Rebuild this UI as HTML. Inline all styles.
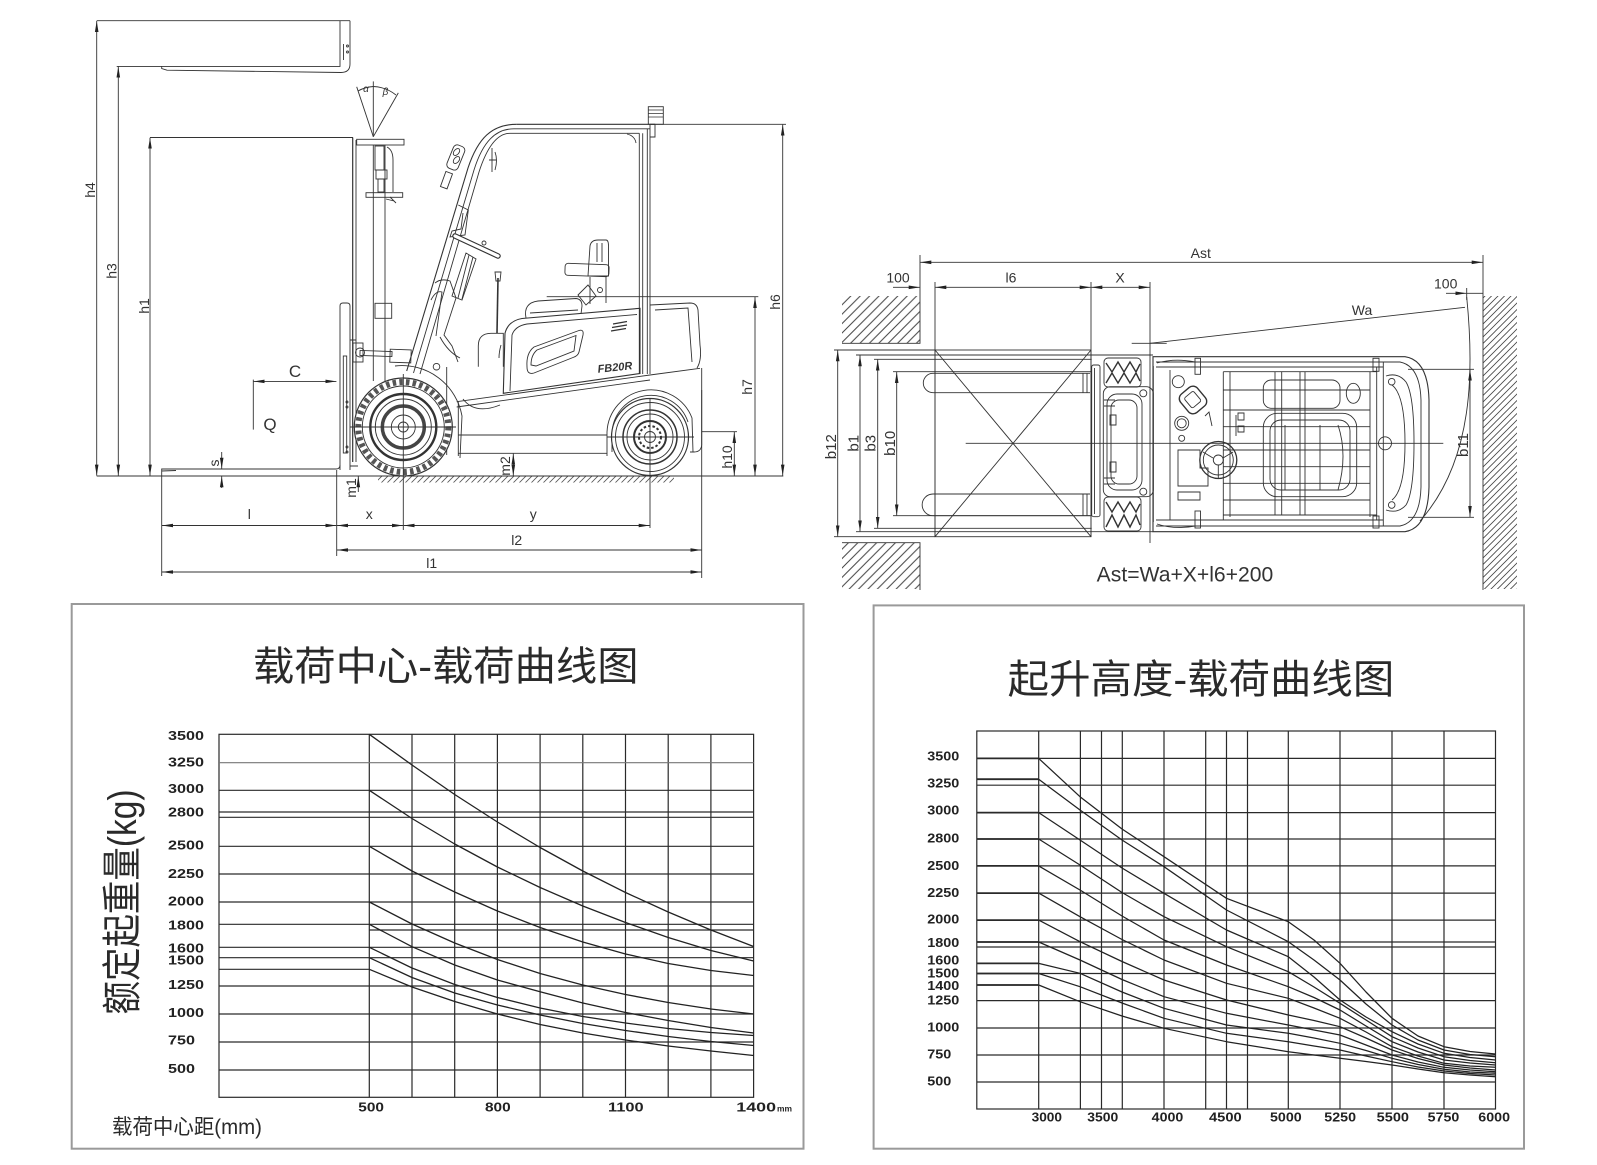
<!DOCTYPE html>
<html><head><meta charset="utf-8"><title>Forklift drawing</title>
<style>
html,body{margin:0;padding:0;background:#fff;}
svg{display:block;}
.t{font-family:"Liberation Sans","Noto Sans CJK SC",sans-serif;fill:#2a2a2a;}
.d{font-family:"Liberation Sans",sans-serif;fill:#333;font-size:14px;}
.k{font-family:"Liberation Sans",sans-serif;font-weight:bold;fill:#222;font-size:13px;}
</style></head>
<body>
<svg width="1597" height="1165" viewBox="0 0 1597 1165" xmlns="http://www.w3.org/2000/svg">
<defs>
<marker id="ar" markerUnits="userSpaceOnUse" markerWidth="11" markerHeight="5" refX="11" refY="2.5" orient="auto-start-reverse" viewBox="0 0 11 5"><path d="M0,0.7 L11,2.5 L0,4.3 Z" fill="#222"/></marker>
<pattern id="hl" patternUnits="userSpaceOnUse" width="9.4" height="9.4"><path d="M0,9.4 L9.4,0 M-2,2 L2,-2 M7.4,11.4 L11.4,7.4" stroke="#444" stroke-width="1"/></pattern>
<pattern id="hr" patternUnits="userSpaceOnUse" width="6.5" height="6.5"><path d="M0,6.5 L6.5,0 M-2,2 L2,-2 M4.5,8.5 L8.5,4.5" stroke="#444" stroke-width="0.8"/></pattern>
<pattern id="hg" patternUnits="userSpaceOnUse" width="6" height="6"><path d="M0,6 L6,0 M-2,2 L2,-2 M4,8 L8,4" stroke="#555" stroke-width="0.8"/></pattern>
</defs>
<rect width="1597" height="1165" fill="#fff"/>

<!-- ================= SIDE VIEW ================= -->
<g fill="none" stroke="#333" stroke-width="0.9">
  <!-- vertical dims left -->
  <line x1="96.7" y1="21" x2="96.7" y2="475.6" marker-start="url(#ar)" marker-end="url(#ar)"/>
  <line x1="96.7" y1="20.7" x2="350" y2="20.7"/>
  <line x1="118.3" y1="66.6" x2="118.3" y2="475.6" marker-start="url(#ar)" marker-end="url(#ar)"/>
  <line x1="150" y1="137.7" x2="150" y2="475.6" marker-start="url(#ar)" marker-end="url(#ar)"/>
  <line x1="150" y1="137.5" x2="353" y2="137.5"/>
  <!-- ground -->
  <line x1="96.7" y1="476" x2="783.3" y2="476"/>
  <rect x="378" y="476.5" width="296" height="6" fill="url(#hg)" stroke="none"/>
  <!-- raised fork -->
  <path d="M116.7,66.4 L340,66.4 L340,20.7"/>
  <path d="M350,20.7 L350,64 Q350,72.5 341,72.5 L167,70.2 L161.7,68.5 L161.7,66.4"/>
  <line x1="343.5" y1="44" x2="343.5" y2="60"/>
  <circle cx="347.5" cy="46" r="1"/><circle cx="347.5" cy="52" r="1"/>
  <!-- mast -->
  <line x1="352.7" y1="137.5" x2="352.7" y2="462" stroke-width="1.2"/>
  <line x1="356" y1="140" x2="356" y2="462"/>
  <line x1="373.3" y1="145" x2="373.3" y2="381"/>
  <line x1="385" y1="145" x2="385" y2="381"/>
  <rect x="356.7" y="139.3" width="47.3" height="5.7"/>
  <rect x="375" y="146" width="9" height="24"/>
  <rect x="376" y="170" width="11" height="9"/>
  <rect x="378" y="179" width="6" height="13"/>
  <path d="M387,147 Q393,150 393,160 L393,192"/>
  <rect x="366" y="192.7" width="36.7" height="4.6"/>
  <path d="M390,197 L396,203 M386,199 L394,201"/>
  <rect x="375" y="303.3" width="16.7" height="15"/>
  <!-- backrest/carriage -->
  <path d="M340,470 L340,306 Q340,303 343,303 L347,303 Q350,303 350,306 L350,470"/>
  <rect x="343.3" y="356" width="3.4" height="97"/>
  <circle cx="347" cy="402" r="1"/><circle cx="347" cy="407" r="1"/><circle cx="347" cy="447" r="1"/><circle cx="347" cy="452" r="1"/>
  <path d="M350,340 L356,340 M350,466 L358,466"/>
  <!-- lower fork -->
  <path d="M161.7,476 L161.7,469 L336,469 Q340,469 340,465"/>
  <path d="M161.7,471 L176,470.5"/>
  <!-- alpha beta -->
  <line x1="373.3" y1="136.7" x2="356.7" y2="86.8"/>
  <line x1="373.3" y1="136.7" x2="398.3" y2="92.9"/>
  <line x1="373.3" y1="136.7" x2="373.3" y2="81.4"/>
  <path d="M358,91 Q365,87 373.3,86.5"/>
  <path d="M373.3,86.5 Q386,87 396,95"/>
  <!-- tilt cylinder -->
  <rect x="360" y="351" width="32" height="5" transform="rotate(2 376 353)"/>
  <rect x="390" y="349.5" width="21" height="13" transform="rotate(2 400 356)"/>
  <circle cx="360" cy="352.5" r="4.5"/>
  <rect x="353" y="343" width="10" height="19"/>
  <circle cx="436.5" cy="366.7" r="3.3"/>

  <!-- overhead guard -->
  <path d="M516.7,124.3 C492,124.3 478,138 468,168 L406.7,371" stroke-width="1.1"/>
  <path d="M514,128.8 C496,128.8 483,141 474,170 L413.5,373"/>
  <path d="M510,133.3 C499,133.3 488,144 479,172 L420,374"/>
  <line x1="516.7" y1="124.3" x2="655" y2="124.3" stroke-width="1.1"/>
  <line x1="514" y1="128.8" x2="650" y2="128.8"/>
  <line x1="510" y1="133.3" x2="639.3" y2="133.3"/>
  <line x1="639.3" y1="133.3" x2="639.3" y2="374"/>
  <line x1="642.7" y1="133.3" x2="642.7" y2="374"/>
  <line x1="647.3" y1="128.8" x2="647.3" y2="374"/>
  <line x1="650" y1="124.3" x2="650" y2="374"/>
  <path d="M650,124.3 L655,124.3 L655,137 L650,137"/>
  <rect x="648.3" y="106.7" width="15" height="17.6"/>
  <path d="M648.3,110 H663.3 M648.3,113.5 H663.3 M648.3,117 H663.3" stroke-width="0.8"/>
  <path d="M627,134 Q635,136 636,143" />
  <!-- mirrors & handle -->
  <rect x="450" y="145" width="12" height="25" rx="4" transform="rotate(22 456 157)"/>
  <ellipse cx="456.5" cy="152" rx="2.5" ry="4" transform="rotate(40 456.5 152)"/>
  <ellipse cx="456.5" cy="160" rx="2.5" ry="4" transform="rotate(40 456.5 160)"/>
  <rect x="443" y="172" width="7" height="16" transform="rotate(20 446 180)"/>
  <path d="M492,148 L492,172 M489,160 H496 M495,152 Q498,160 495,170"/>
  <path d="M458.3,205 L468.3,210 L465,235 L450,237 L452,231 L461,229 L463,213"/>
  <!-- steering -->
  <line x1="455" y1="236" x2="498" y2="256" stroke-width="5.5" stroke-linecap="round"/>
  <line x1="455" y1="236" x2="498" y2="256" stroke="#fff" stroke-width="3.2" stroke-linecap="round"/>
  <circle cx="484" cy="243" r="2"/>
  <path d="M466,253 L476,259 L462,300 L452,296 Z"/>
  <path d="M469,255 L458,298 M473,257 L462,299"/>
  <path d="M435,283 Q441,278 450,281 L456,298 L444,335 L452,346 L458,362"/>
  <path d="M431,300 Q436,290 442,292 L436,336"/>
  <path d="M440,337 Q448,352 460,358"/>
  <!-- lever -->
  <line x1="498" y1="278" x2="497" y2="333" stroke-width="1.6"/>
  <path d="M495,272 L501,272 L500,281 L496,281 Z"/>
  <!-- step -->
  <path d="M478.3,366.7 L478.3,346 Q478.3,333.3 491,333.3 L503.3,333.3 L503.3,366.7"/>
  <path d="M501,345 Q499,352 499,358"/>
  <!-- seat -->
  <path d="M588,276 L590,246 Q591,240 598,240 L606,240 Q608.5,240 608.5,246 L608.5,276 Z"/>
  <path d="M597,243 L597,262 M602,243 L602,262"/>
  <rect x="565" y="264" width="44" height="12" rx="3" transform="rotate(2 587 270)"/>
  <path d="M590,277 L590,304 M606,277 L606,303"/>
  <path d="M578,295 L588,285 L596,296 L586,305 Z"/>
  <circle cx="600" cy="290" r="2.5"/>
  <!-- hood -->
  <path d="M526,318 Q523,303 538,301 L576,298.5 Q582,299 582,306 L581,314"/>
  <path d="M530,313 L578,310"/>
  <line x1="546.7" y1="296.7" x2="758.3" y2="296.7" />
  <!-- body panel -->
  <path d="M503.3,393.3 L505,333.3 Q508,321 522,318.5 L640,308.3 L640,373.5 Z" stroke-width="1.1"/>
  <path d="M510,391 L512,335 Q515,326 527,324 L637,314.5"/>
  <path d="M527,367 Q526,353 534,347 L579,330.5 Q584,329 583,335 L579,352 Q578,356 573,357.5 L534,373 Q527,375 527,367 Z"/>
  <path d="M531,365 Q531,355 537,350 L576,335.5 L574,351 L536,366 Z"/>
  <path d="M613,324 L627,321.5 M612,327.5 L627,325 M611,331 L626,328.5" stroke-width="1.2"/>
  <!-- lower body / chassis -->
  <path d="M456.7,401.7 L650,375 L700,368.3"/>
  <path d="M456.7,407 L650,380"/>
  <line x1="458.3" y1="435" x2="607" y2="435"/>
  <line x1="458.3" y1="453.3" x2="607" y2="453.3"/>
  <path d="M458.3,401.7 L458.3,456"/>
  <path d="M463,399 Q475,415 500,405"/>
  <path d="M395,366 A61,61 0 0 1 462,416 L460,458"/>
  <path d="M446.7,367 L446.7,455"/>
  <!-- counterweight -->
  <path d="M650,305 L690,303 Q697,303 698,310 L700,345 Q702,360 697,368"/>
  <path d="M655,310 L688,308 L692,362"/>
  <path d="M701.7,368 L701.7,445 Q701,452 694,452 L690,452"/>
  <path d="M607,456 L607,432 A44,44 0 0 1 692,418 L693,452"/>
  <path d="M612,452 L612,434 A39,39 0 0 1 688,422"/>
  <!-- front wheel -->
  <g>
    <circle cx="403.3" cy="427" r="49" fill="#fff" stroke-width="1.2"/>
    <circle cx="403.3" cy="427" r="45" stroke="#555" stroke-width="6" stroke-dasharray="3.5 3.2"/>
    <circle cx="403.3" cy="427" r="41"/>
    <circle cx="403.3" cy="427" r="33" stroke-width="2.4"/>
    <circle cx="403.3" cy="427" r="28"/>
    <circle cx="403.3" cy="427" r="21" stroke="#444" stroke-width="3.5"/>
    <circle cx="403.3" cy="427" r="12"/>
    <circle cx="403.3" cy="427" r="5"/>
  </g>
  <line x1="403.3" y1="374" x2="403.3" y2="530"/>
  <line x1="350" y1="427" x2="456" y2="427"/>
  <!-- rear wheel -->
  <g>
    <circle cx="650" cy="437" r="38.5" fill="#fff" stroke-width="1.2"/>
    <circle cx="650" cy="437" r="34.5"/>
    <circle cx="650" cy="437" r="27" stroke-width="1.5"/>
    <circle cx="650" cy="437" r="23"/>
    <circle cx="650" cy="437" r="16" stroke-width="2"/>
    <circle cx="650" cy="437" r="11" stroke-dasharray="2.5 2" stroke-width="2"/>
    <circle cx="650" cy="437" r="5.5"/>
  </g>
  <line x1="650" y1="398" x2="650" y2="528"/>
  <line x1="607" y1="437" x2="694" y2="437"/>

  <!-- right dims -->
  <line x1="655" y1="124.3" x2="786" y2="124.3"/>
  <line x1="782.7" y1="124.6" x2="782.7" y2="475.6" marker-start="url(#ar)" marker-end="url(#ar)"/>
  <line x1="755" y1="297" x2="755" y2="475.6" marker-start="url(#ar)" marker-end="url(#ar)"/>
  <line x1="701.7" y1="431.7" x2="737" y2="431.7"/>
  <line x1="734.3" y1="432" x2="734.3" y2="475.6" marker-start="url(#ar)" marker-end="url(#ar)"/>
  <!-- bottom dims -->
  <line x1="161.7" y1="476" x2="161.7" y2="576"/>
  <line x1="336.7" y1="470" x2="336.7" y2="556"/>
  <line x1="701.7" y1="390" x2="701.7" y2="578"/>
  <line x1="162" y1="525.5" x2="336.4" y2="525.5" marker-start="url(#ar)" marker-end="url(#ar)"/>
  <line x1="337" y1="525.5" x2="403" y2="525.5" marker-start="url(#ar)" marker-end="url(#ar)"/>
  <line x1="403.6" y1="525.5" x2="649.7" y2="525.5" marker-start="url(#ar)" marker-end="url(#ar)"/>
  <line x1="337" y1="550" x2="701.4" y2="550" marker-start="url(#ar)" marker-end="url(#ar)"/>
  <line x1="162" y1="572" x2="701.4" y2="572" marker-start="url(#ar)" marker-end="url(#ar)"/>
  <!-- C / Q -->
  <line x1="253.6" y1="381.4" x2="336.4" y2="381.4" marker-start="url(#ar)" marker-end="url(#ar)"/>
  <line x1="253.3" y1="379.6" x2="253.3" y2="429.6"/>
  <!-- s, m1, m2 -->
  <line x1="221.7" y1="452" x2="221.7" y2="468.7" marker-end="url(#ar)"/>
  <line x1="221.7" y1="488" x2="221.7" y2="476.3" marker-end="url(#ar)"/>
  <line x1="358.3" y1="492" x2="358.3" y2="476.3" marker-end="url(#ar)"/>
  <line x1="513.3" y1="453.6" x2="513.3" y2="475.7" marker-start="url(#ar)" marker-end="url(#ar)"/>
</g>
<g class="d" font-size="14">
  <text transform="translate(95,190) rotate(-90)" text-anchor="middle">h4</text>
  <text transform="translate(116.5,271) rotate(-90)" text-anchor="middle">h3</text>
  <text transform="translate(149,306) rotate(-90)" text-anchor="middle">h1</text>
  <text transform="translate(780,302) rotate(-90)" text-anchor="middle">h6</text>
  <text transform="translate(752,387) rotate(-90)" text-anchor="middle">h7</text>
  <text transform="translate(732,457) rotate(-90)" text-anchor="middle">h10</text>
  <text transform="translate(510,466) rotate(-90)" text-anchor="middle">m2</text>
  <text transform="translate(356,488) rotate(-90)" text-anchor="middle">m1</text>
  <text transform="translate(219,463) rotate(-90)" text-anchor="middle">s</text>
  <text x="295" y="377" text-anchor="middle" font-size="17">C</text>
  <text x="270" y="430" text-anchor="middle" font-size="17">Q</text>
  <text x="249.3" y="519" text-anchor="middle">l</text>
  <text x="369.3" y="519" text-anchor="middle">x</text>
  <text x="533.3" y="519" text-anchor="middle">y</text>
  <text x="516.7" y="545" text-anchor="middle">l2</text>
  <text x="431.7" y="568" text-anchor="middle">l1</text>
  <text x="366" y="92" font-size="10" font-style="italic" text-anchor="middle">α</text>
  <text x="385.5" y="95" font-size="10" font-style="italic" text-anchor="middle">β</text>
  <text x="615" y="371" font-size="11" font-weight="bold" font-style="italic" text-anchor="middle" transform="rotate(-6 615 368)">FB20R</text>
</g>

<!-- ================= TOP VIEW ================= -->
<g fill="none" stroke="#333" stroke-width="0.9">
  <!-- walls -->
  <rect x="842" y="296" width="78" height="47" fill="url(#hl)" stroke="none"/>
  <rect x="842" y="543" width="78" height="46" fill="url(#hl)" stroke="none"/>
  <rect x="1483" y="296" width="34" height="293" fill="url(#hr)" stroke="none"/>
  <path d="M920,255 L920,343.3 L842,343.3"/>
  <path d="M842,542.7 L920,542.7 L920,590"/>
  <line x1="1483" y1="255" x2="1483" y2="590"/>
  <!-- dims top -->
  <line x1="920.3" y1="262.3" x2="1482.7" y2="262.3" marker-start="url(#ar)" marker-end="url(#ar)"/>
  <line x1="893" y1="287.3" x2="919.7" y2="287.3" marker-end="url(#ar)"/>
  <line x1="935.3" y1="287.3" x2="1090.7" y2="287.3" marker-start="url(#ar)" marker-end="url(#ar)"/>
  <line x1="1091.3" y1="287.3" x2="1149.7" y2="287.3" marker-start="url(#ar)" marker-end="url(#ar)"/>
  <line x1="935" y1="282" x2="935" y2="537"/>
  <line x1="1091" y1="282" x2="1091" y2="537"/>
  <line x1="1150" y1="282" x2="1150" y2="543"/>
  <!-- load box -->
  <rect x="935" y="350" width="156" height="186.7"/>
  <line x1="935" y1="350" x2="1091" y2="536.7"/>
  <line x1="935" y1="536.7" x2="1091" y2="350"/>
  <!-- b dims -->
  <line x1="834" y1="350" x2="935" y2="350"/>
  <line x1="834" y1="536.7" x2="935" y2="536.7"/>
  <line x1="837.7" y1="350.3" x2="837.7" y2="536.4" marker-start="url(#ar)" marker-end="url(#ar)"/>
  <line x1="856" y1="355" x2="1153" y2="355"/>
  <line x1="856" y1="531.7" x2="1153" y2="531.7"/>
  <line x1="860" y1="355.3" x2="860" y2="531.4" marker-start="url(#ar)" marker-end="url(#ar)"/>
  <line x1="874" y1="359.3" x2="1091.7" y2="359.3"/>
  <line x1="874" y1="528.3" x2="1091.7" y2="528.3"/>
  <line x1="877.7" y1="359.6" x2="877.7" y2="528" marker-start="url(#ar)" marker-end="url(#ar)"/>
  <line x1="893" y1="371.7" x2="1091.7" y2="371.7"/>
  <line x1="893" y1="515.7" x2="1091.7" y2="515.7"/>
  <line x1="896.7" y1="372" x2="896.7" y2="515.4" marker-start="url(#ar)" marker-end="url(#ar)"/>
  <!-- forks -->
  <path d="M1090,373.3 L933,373.3 A9.7,9.7 0 0 0 933,392.7 L1090,392.7"/>
  <path d="M1090,494 L933,494 A10.8,10.8 0 0 0 933,515.7 L1090,515.7"/>
  <path d="M1083,373.3 V392.7 M1087,373.3 V392.7 M1083,494 V515.7 M1087,494 V515.7"/>
  <!-- center line -->
  <line x1="965.7" y1="443.3" x2="1443.3" y2="443.3"/>
  <!-- Wa & radius -->
  <line x1="1131.7" y1="343.3" x2="1166.7" y2="343.3"/>
  <line x1="1150" y1="343.3" x2="1465" y2="307.3"/>
  <path d="M1466.7,297 C1474,370 1474,460 1420,521"/>
  <line x1="1446" y1="293.3" x2="1466.4" y2="293.3" marker-end="url(#ar)"/>
  <line x1="1466.7" y1="293.3" x2="1483" y2="293.3"/>
  <line x1="1466.7" y1="288" x2="1466.7" y2="300"/>
  <!-- b11 -->
  <line x1="1408" y1="369.3" x2="1474" y2="369.3"/>
  <line x1="1408" y1="517.3" x2="1474" y2="517.3"/>
  <line x1="1470" y1="369.6" x2="1470" y2="517" marker-start="url(#ar)" marker-end="url(#ar)"/>

  <!-- truck top -->
  <rect x="1091.7" y="365" width="8.3" height="151.7" rx="2"/>
  <line x1="1094.5" y1="368" x2="1094.5" y2="514"/>
  <!-- tires -->
  <rect x="1104" y="358" width="37" height="29" rx="4"/>
  <path d="M1106,363 L1112,372 L1118,362 L1124,372 L1130,362 L1136,372 L1140,364 M1106,383 L1112,373 L1118,383 L1124,373 L1130,383 L1136,373 L1140,381" stroke-width="1.4"/>
  <rect x="1104" y="497" width="37" height="34" rx="4"/>
  <path d="M1106,502 L1112,512 L1118,502 L1124,512 L1130,502 L1136,512 L1140,504 M1106,527 L1112,515 L1118,527 L1124,515 L1130,527 L1136,515 L1140,525" stroke-width="1.4"/>
  <!-- axle housing -->
  <rect x="1103.3" y="386.7" width="50" height="110" rx="7"/>
  <rect x="1107" y="394" width="35" height="96" rx="10"/>
  <rect x="1111" y="400" width="26" height="84" rx="8"/>
  <circle cx="1143.3" cy="393.3" r="3.5"/>
  <circle cx="1143.3" cy="491.7" r="3.5"/>
  <path d="M1104,400 H1115 M1104,406 H1115 M1104,478 H1115 M1104,484 H1115"/>
  <path d="M1110,415 L1116,415 L1116,425 L1110,425 Z M1110,462 L1116,462 L1116,472 L1110,472 Z"/>
  <!-- body outline -->
  <path d="M1153,356.7 L1405,356.7 Q1428,360 1429,400 L1429,487 Q1428,528 1405,531.7 L1153,531.7 Z" stroke-width="1.1"/>
  <path d="M1156,362 L1400,362 Q1420,366 1421,400 L1421,487 Q1420,522 1400,526 L1156,526"/>
  <path d="M1156,367 L1383,367 M1156,520 L1383,520"/>
  <path d="M1153.3,366 L1153.3,522"/>
  <line x1="1170" y1="370" x2="1170" y2="520"/>
  <line x1="1223.3" y1="371.7" x2="1223.3" y2="520"/>
  <line x1="1230" y1="371.7" x2="1230" y2="517"/>
  <line x1="1370" y1="371.7" x2="1370" y2="517"/>
  <line x1="1376.7" y1="367" x2="1376.7" y2="520"/>
  <line x1="1383.3" y1="362" x2="1383.3" y2="526"/>
  <!-- OHG grid -->
  <path d="M1223.3,371.7 H1376.7 M1223.3,390 H1370 M1223.3,410 H1370 M1223.3,426.7 H1370 M1223.3,450 H1370 M1223.3,466.7 H1370 M1223.3,483.3 H1370 M1223.3,500 H1370 M1223.3,515 H1376.7"/>
  <path d="M1275,371.7 V515 M1281.7,371.7 V515 M1300,371.7 V515 M1305,371.7 V515"/>
  <rect x="1263.3" y="380" width="76.7" height="28.3" rx="8"/>
  <rect x="1263.3" y="413.3" width="93.4" height="83.4" rx="14"/>
  <rect x="1270" y="420" width="80" height="70" rx="11"/>
  <path d="M1285,425 V490 M1320,425 V490 M1338,425 Q1348,455 1338,490"/>
  <ellipse cx="1353.3" cy="393.3" rx="7" ry="10"/>
  <!-- rear handles -->
  <path d="M1386,376 Q1398,372 1406,382 Q1414,395 1414,443 Q1414,492 1406,505 Q1398,514 1386,510"/>
  <path d="M1392,385 Q1405,395 1405,443 Q1405,490 1392,500"/>
  <circle cx="1391.7" cy="381.7" r="3.3"/>
  <circle cx="1391.7" cy="505" r="3.3"/>
  <circle cx="1385" cy="443.3" r="6.5"/>
  <!-- pillars -->
  <rect x="1195" y="358.3" width="5.5" height="16"/>
  <rect x="1195" y="511" width="5.5" height="17"/>
  <rect x="1373" y="358.3" width="6" height="13"/>
  <rect x="1373" y="516" width="6" height="12"/>
  <path d="M1157,363 Q1175,358 1195,362 M1157,524 Q1175,530 1195,526"/>
  <!-- dashboard -->
  <rect x="1182" y="388" width="22" height="24" rx="6" transform="rotate(-40 1193 400)" stroke-width="1.4"/>
  <rect x="1187" y="393" width="12" height="13" rx="2" transform="rotate(-40 1193 400)"/>
  <circle cx="1181.7" cy="423.3" r="7"/>
  <circle cx="1181.7" cy="423.3" r="4.5"/>
  <circle cx="1178.3" cy="381.7" r="6"/>
  <circle cx="1181.7" cy="438.3" r="3"/>
  <circle cx="1218.3" cy="460" r="18.5" stroke-width="1.3"/>
  <circle cx="1218.3" cy="460" r="15"/>
  <circle cx="1218.3" cy="460" r="5"/>
  <path d="M1203,452 L1213,458 M1233,452 L1223,458 M1218.3,465 L1218.3,478"/>
  <path d="M1178,450 H1200 V468 H1208 V486 H1178 Z"/>
  <path d="M1178,492 H1200 V500 H1178 Z"/>
  <path d="M1236,415 V436 M1238,413 H1244 V420 H1238 Z M1238,426 H1244 V432 H1238 Z"/>
  <path d="M1205,416 L1209,412 L1212,426"/>
</g>
<g class="d" font-size="16">
  <text x="1200.8" y="258" text-anchor="middle">Ast</text>
  <text x="898" y="282.5" text-anchor="middle">100</text>
  <text x="1011" y="282.5" text-anchor="middle">l6</text>
  <text x="1120" y="282.5" text-anchor="middle">X</text>
  <text x="1362" y="315" text-anchor="middle">Wa</text>
  <text x="1445.7" y="288.5" text-anchor="middle">100</text>
  <text transform="translate(836,446.7) rotate(-90)" text-anchor="middle" font-size="15">b12</text>
  <text transform="translate(858.5,443.3) rotate(-90)" text-anchor="middle" font-size="15">b1</text>
  <text transform="translate(875.5,443.3) rotate(-90)" text-anchor="middle" font-size="15">b3</text>
  <text transform="translate(895,443.3) rotate(-90)" text-anchor="middle" font-size="15">b10</text>
  <text transform="translate(1468,445) rotate(-90)" text-anchor="middle" font-size="15">b11</text>
  <text x="1096.7" y="581.5" font-size="21" textLength="176.6" lengthAdjust="spacingAndGlyphs">Ast=Wa+X+l6+200</text>
</g>

<!-- ================= LEFT CHART ================= -->
<rect x="71.7" y="604" width="731.8" height="544.7" fill="none" stroke="#9a9a9a" stroke-width="2"/>
<text class="t" x="253" y="680" font-size="40" textLength="385.5" lengthAdjust="spacingAndGlyphs">载荷中心-载荷曲线图</text>
<text class="t" transform="translate(136,902) rotate(-90)" text-anchor="middle" font-size="40" textLength="225" lengthAdjust="spacingAndGlyphs">额定起重量(kg)</text>
<text class="t" x="112" y="1134" font-size="21" textLength="150" lengthAdjust="spacingAndGlyphs">载荷中心距(mm)</text>
<g fill="none" stroke="#2a2a2a" stroke-width="1.2">
  <rect x="219" y="734.3" width="534.6" height="363"/>
  <path d="M369.3,734.3V1097.3 M412,734.3V1097.3 M454.7,734.3V1097.3 M497.4,734.3V1097.3 M540.1,734.3V1097.3 M582.8,734.3V1097.3 M625.5,734.3V1097.3 M668.2,734.3V1097.3 M710.9,734.3V1097.3"/>
  <path d="M219,790.3H753.6 M219,812H753.6 M219,817.3H753.6 M219,846.3H753.6 M219,874H753.6 M219,902H753.6 M219,924.3H753.6 M219,947.3H753.6 M219,957.7H753.6 M219,986H753.6 M219,1014H753.6 M219,1042H753.6 M219,1070H753.6 M369.3,930H753.6 M219,969.3H369.3"/>
  <path d="M219,762.7H753.6" stroke="#777"/>
</g>
<g fill="none" stroke="#222" stroke-width="1.3" stroke-linejoin="round">
  <polyline points="369.3,734.3 412,765 454.7,794.5 497.4,822 540.1,847.5 582.8,871 625.5,892.5 668.2,912 710.9,930 753.6,946.5"/>
  <polyline points="369.3,790.3 412,818.5 454.7,844 497.4,867 540.1,887.5 582.8,906 625.5,922.5 668.2,937.5 710.9,950.5 753.6,961"/>
  <polyline points="369.3,846.3 412,871 454.7,892 497.4,911 540.1,927.5 582.8,942 625.5,954 668.2,963.5 710.9,970.5 753.6,975.5"/>
  <polyline points="369.3,902 412,924 454.7,943 497.4,959.5 540.1,973.5 582.8,985 625.5,994.5 668.2,1002.5 710.9,1009 753.6,1014"/>
  <polyline points="369.3,924.3 412,946.7 454.7,965 497.4,980 540.1,991.7 582.8,1003 625.5,1012.5 668.2,1020.5 710.9,1027.5 753.6,1033"/>
  <polyline points="369.3,947.3 412,968 454.7,984.5 497.4,997.5 540.1,1008 582.8,1016.5 625.5,1023 668.2,1028.5 710.9,1032.5 753.6,1035.5"/>
  <polyline points="369.3,957.7 412,977.5 454.7,993 497.4,1005 540.1,1015 582.8,1023.5 625.5,1030.5 668.2,1036.5 710.9,1041.5 753.6,1045.5"/>
  <polyline points="369.3,969.3 412,987 454.7,1001.5 497.4,1014 540.1,1024.5 582.8,1033 625.5,1040 668.2,1046 710.9,1051 753.6,1055.5"/>
</g>
<g class="k">
  <text x="168" y="740" textLength="36" lengthAdjust="spacingAndGlyphs">3500</text>
  <text x="168" y="766.7" textLength="36" lengthAdjust="spacingAndGlyphs">3250</text>
  <text x="168" y="793" textLength="36" lengthAdjust="spacingAndGlyphs">3000</text>
  <text x="168" y="816.7" textLength="36" lengthAdjust="spacingAndGlyphs">2800</text>
  <text x="168" y="849.7" textLength="36" lengthAdjust="spacingAndGlyphs">2500</text>
  <text x="168" y="878" textLength="36" lengthAdjust="spacingAndGlyphs">2250</text>
  <text x="168" y="905.4" textLength="36" lengthAdjust="spacingAndGlyphs">2000</text>
  <text x="168" y="929.7" textLength="36" lengthAdjust="spacingAndGlyphs">1800</text>
  <text x="168" y="952.4" textLength="36" lengthAdjust="spacingAndGlyphs">1600</text>
  <text x="168" y="964.7" textLength="36" lengthAdjust="spacingAndGlyphs">1500</text>
  <text x="168" y="989" textLength="36" lengthAdjust="spacingAndGlyphs">1250</text>
  <text x="168" y="1017" textLength="36" lengthAdjust="spacingAndGlyphs">1000</text>
  <text x="168" y="1044.7" textLength="27" lengthAdjust="spacingAndGlyphs">750</text>
  <text x="168" y="1073" textLength="27" lengthAdjust="spacingAndGlyphs">500</text>
  <text x="358.3" y="1111.5" textLength="25.7" lengthAdjust="spacingAndGlyphs">500</text>
  <text x="485" y="1111.5" textLength="25.7" lengthAdjust="spacingAndGlyphs">800</text>
  <text x="608" y="1111.5" textLength="35.6" lengthAdjust="spacingAndGlyphs">1100</text>
  <text x="736.3" y="1111.5" textLength="39.7" lengthAdjust="spacingAndGlyphs">1400</text>
  <text x="777" y="1111.5" font-size="8" textLength="15" lengthAdjust="spacingAndGlyphs">mm</text>
</g>

<!-- ================= RIGHT CHART ================= -->
<rect x="873.6" y="605.4" width="650.4" height="543.3" fill="none" stroke="#9a9a9a" stroke-width="2"/>
<text class="t" x="1007.7" y="693" font-size="40" textLength="386.6" lengthAdjust="spacingAndGlyphs">起升高度-载荷曲线图</text>
<g fill="none" stroke="#2a2a2a" stroke-width="1.2">
  <rect x="976.8" y="731" width="518.7" height="378"/>
  <path d="M1038.7,731V1109 M1080.4,731V1109 M1101.5,731V1109 M1122.3,731V1109 M1164,731V1109 M1205.7,731V1109 M1226.5,731V1109 M1247.5,731V1109 M1288.3,731V1109 M1340,731V1109 M1392,731V1109 M1444,731V1109"/>
  <path d="M976.8,758.4H1495.5 M976.8,785.2H1495.5 M976.8,812.6H1495.5 M976.8,839H1495.5 M976.8,865.9H1495.5 M976.8,893.1H1495.5 M976.8,920.1H1495.5 M976.8,942H1495.5 M976.8,947H1495.5 M976.8,973.5H1495.5 M976.8,1000.6H1495.5 M976.8,1028H1495.5 M976.8,1055H1495.5 M976.8,1082H1495.5"/>
  <path d="M976.8,779.2H1038.7 M976.8,963.4H1038.7 M976.8,985H1038.7"/>
  <path d="M976.8,758.4H1038.7 M976.8,779.2H1038.7 M976.8,812.6H1038.7 M976.8,839H1038.7 M976.8,865.9H1038.7 M976.8,893.1H1038.7 M976.8,920.1H1038.7 M976.8,942H1038.7 M976.8,963.4H1038.7 M976.8,973.5H1038.7 M976.8,985H1038.7" stroke-width="1.8"/>
</g>
<g fill="none" stroke="#222" stroke-width="1.25" stroke-linejoin="round">
  <polyline points="1038.7,758.4 1080,796.7 1122,829 1164,856.7 1226.5,898.3 1288.3,921.7 1314,940 1340,963.3 1366,992 1392,1018.3 1418,1036 1444,1046.7 1470,1051.5 1495.5,1054"/>
  <polyline points="1038.7,779.2 1080,810 1122,840 1164,866.7 1226.5,910 1288.3,941.7 1314,960 1340,980 1366,1004 1392,1025 1418,1040 1444,1050 1470,1054.5 1495.5,1056.7"/>
  <polyline points="1038.7,812.6 1080,840 1122,868 1164,893.3 1226.5,930 1288.3,956.7 1314,977 1340,1000 1366,1017 1392,1031.7 1418,1044 1444,1053.3 1470,1057.5 1495.5,1060"/>
  <polyline points="1038.7,839 1080,865 1122,892.5 1164,916.7 1226.5,946.7 1288.3,971.7 1314,987 1340,1003.3 1366,1020 1392,1036.7 1418,1048 1444,1056.7 1470,1060.5 1495.5,1062.7"/>
  <polyline points="1038.7,865.9 1080,890 1122,916 1164,940 1226.5,965 1288.3,986.7 1314,997.5 1340,1010 1366,1026 1392,1041.7 1418,1052 1444,1060 1470,1063 1495.5,1065"/>
  <polyline points="1038.7,893.1 1080,916.7 1122,939.5 1164,960 1226.5,983.3 1288.3,998.3 1314,1008 1340,1018.3 1366,1032 1392,1046.7 1418,1056 1444,1063.3 1470,1066 1495.5,1067.3"/>
  <polyline points="1038.7,920.1 1080,941.7 1122,961.5 1164,980 1226.5,1000 1288.3,1015 1314,1020.5 1340,1026.7 1366,1038 1392,1050 1418,1058.5 1444,1065 1470,1068 1495.5,1070"/>
  <polyline points="1038.7,942 1080,960 1122,979.5 1164,996.7 1226.5,1013.3 1288.3,1025 1314,1030 1340,1035 1366,1045 1392,1055 1418,1062 1444,1067.3 1470,1070 1495.5,1071.7"/>
  <polyline points="1038.7,963.4 1080,973.3 1122,992 1164,1008.3 1226.5,1025 1288.3,1033.3 1314,1038 1340,1043.3 1366,1050.5 1392,1058.3 1418,1064.5 1444,1069.3 1470,1072 1495.5,1073.3"/>
  <polyline points="1038.7,973.5 1080,986.7 1122,1003 1164,1018.3 1226.5,1033.3 1288.3,1041.7 1314,1046 1340,1050 1366,1056 1392,1061.7 1418,1067 1444,1071 1470,1073.5 1495.5,1075"/>
  <polyline points="1038.7,985 1080,1001.7 1122,1016 1164,1028.3 1226.5,1041.7 1288.3,1051.7 1314,1055 1340,1058.3 1366,1061.5 1392,1065 1418,1069 1444,1072.7 1470,1075 1495.5,1076.7"/>
</g>
<g class="k" font-size="12.5">
  <text x="927.3" y="760.6" textLength="32" lengthAdjust="spacingAndGlyphs">3500</text>
  <text x="927.3" y="787.5" textLength="32" lengthAdjust="spacingAndGlyphs">3250</text>
  <text x="927.3" y="814.7" textLength="32" lengthAdjust="spacingAndGlyphs">3000</text>
  <text x="927.3" y="842.5" textLength="32" lengthAdjust="spacingAndGlyphs">2800</text>
  <text x="927.3" y="869.8" textLength="32" lengthAdjust="spacingAndGlyphs">2500</text>
  <text x="927.3" y="896.9" textLength="32" lengthAdjust="spacingAndGlyphs">2250</text>
  <text x="927.3" y="923.5" textLength="32" lengthAdjust="spacingAndGlyphs">2000</text>
  <text x="927.3" y="947.2" textLength="32" lengthAdjust="spacingAndGlyphs">1800</text>
  <text x="927.3" y="964.5" textLength="32" lengthAdjust="spacingAndGlyphs">1600</text>
  <text x="927.3" y="977.5" textLength="32" lengthAdjust="spacingAndGlyphs">1500</text>
  <text x="927.3" y="990.2" textLength="32" lengthAdjust="spacingAndGlyphs">1400</text>
  <text x="927.3" y="1004.5" textLength="32" lengthAdjust="spacingAndGlyphs">1250</text>
  <text x="927.3" y="1031.5" textLength="32" lengthAdjust="spacingAndGlyphs">1000</text>
  <text x="927.3" y="1058.5" textLength="24" lengthAdjust="spacingAndGlyphs">750</text>
  <text x="927.3" y="1085.5" textLength="24" lengthAdjust="spacingAndGlyphs">500</text>
  <text x="1031.6" y="1121.3" textLength="30.4" lengthAdjust="spacingAndGlyphs">3000</text>
  <text x="1087.3" y="1121.3" textLength="31" lengthAdjust="spacingAndGlyphs">3500</text>
  <text x="1151.7" y="1121.3" textLength="31.6" lengthAdjust="spacingAndGlyphs">4000</text>
  <text x="1209" y="1121.3" textLength="32.7" lengthAdjust="spacingAndGlyphs">4500</text>
  <text x="1270" y="1121.3" textLength="31.7" lengthAdjust="spacingAndGlyphs">5000</text>
  <text x="1324.3" y="1121.3" textLength="31.7" lengthAdjust="spacingAndGlyphs">5250</text>
  <text x="1376.7" y="1121.3" textLength="32.3" lengthAdjust="spacingAndGlyphs">5500</text>
  <text x="1427.7" y="1121.3" textLength="31.6" lengthAdjust="spacingAndGlyphs">5750</text>
  <text x="1478.3" y="1121.3" textLength="31.7" lengthAdjust="spacingAndGlyphs">6000</text>
</g>
</svg>
</body></html>
